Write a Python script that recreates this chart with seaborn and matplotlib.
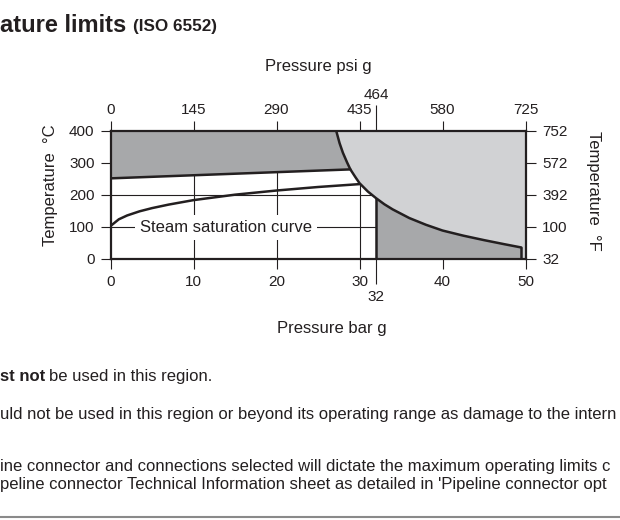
import numpy as np
import matplotlib
matplotlib.use("Agg")
import matplotlib.pyplot as plt
from matplotlib.lines import Line2D
import seaborn as sns

# data
bar_ticks = [0, 10, 20, 30, 40, 50]
psi_ticks = [0, 145, 290, 435, 580, 725]
psi_special = 464          # = 32 bar g
bar_special = 32
temp_c_ticks = [0, 100, 200, 300, 400]
temp_f_labels = ['32', '100', '392', '572', '752']

# body / pressure limit curve (bar g, degC)
limit_p = [27.2, 27.6, 28.0, 28.5, 28.9, 29.5, 30.0, 31.0, 32.0, 33.0, 34.0,
           36.0, 38.0, 40.0, 42.5, 45.0, 47.5, 49.5]
limit_t = [400, 362, 332, 302, 280, 256, 237, 211, 190, 171, 155,
           128, 107, 89, 73, 59, 46, 36]

# upper edge of the "must not be used" region
max_p = [0, 28.9]
max_t = [252, 280]

# steam saturation curve
sat_p = [0, 1, 2, 3.5, 5, 7, 10, 15, 20, 25, 30]
sat_t = [103, 124, 136, 149, 159, 170, 184, 201, 214, 225, 234]

sns.set_style('ticks')
plt.rcParams['font.family'] = ['Liberation Sans', 'DejaVu Sans']

ink = '#231f20'
dark = '#a7a8aa'
light = '#d1d2d4'
fs = 11      # tick labels
fl = 12      # axis titles, notes

fig = plt.figure(figsize=(6.2, 5.2), dpi=100)
ax = fig.add_axes([110.5 / 620, 1 - 259 / 520, 415 / 620, 128 / 520])
ax.set_xlim(0, 50)
ax.set_ylim(0, 400)

# thin reference lines (drawn below the shaded areas)
for v in bar_ticks[1:-1] + [bar_special]:
    ax.axvline(v, color=ink, lw=0.8, zorder=0.5)
for h in temp_c_ticks[1:-1]:
    ax.axhline(h, color=ink, lw=0.8, zorder=0.5)

lp = np.array(limit_p)
lt = np.array(limit_t)

# shaded regions
top_part = lt >= max_t[1]
ax.fill(np.r_[0, lp[top_part], max_p[0]], np.r_[400, lt[top_part], max_t[0]],
        color=dark, lw=0, zorder=1)
ax.fill(np.r_[lp, lp[-1], 50, 50], np.r_[lt, 0, 0, 400],
        color=light, lw=0, zorder=1)
right_part = lp >= bar_special
ax.fill(np.r_[bar_special, lp[right_part], lp[-1]], np.r_[0, lt[right_part], 0],
        color=dark, lw=0, zorder=1)

# curves
sns.lineplot(x=limit_p, y=limit_t, ax=ax, color=ink, lw=1.8, sort=False, zorder=3)
sns.lineplot(x=max_p, y=max_t, ax=ax, color=ink, lw=1.8, sort=False, zorder=3)
sns.lineplot(x=sat_p, y=sat_t, ax=ax, color=ink, lw=1.8, sort=False, zorder=3)
ax.vlines(bar_special, 0, limit_t[limit_p.index(bar_special)], color=ink, lw=1.8, zorder=3)
ax.vlines(limit_p[-1], 0, limit_t[-1], color=ink, lw=1.8, zorder=3)

ax.text(3.5, 100, 'Steam saturation curve', fontsize=fl, color=ink,
        ha='left', va='center', zorder=2,
        bbox=dict(boxstyle='square,pad=0.3', fc='white', ec='none'))

# main axes ticks (bottom / left)
for s in ax.spines.values():
    s.set_linewidth(1.6)
    s.set_color(ink)
    s.set_zorder(4)
ax.set_xticks(bar_ticks)
ax.set_xticks([bar_special], labels=[str(bar_special)], minor=True)
ax.set_yticks(temp_c_ticks)
ax.tick_params(which='major', direction='out', length=7, width=0.8, pad=4.5,
               labelsize=fs, colors=ink)
ax.tick_params(axis='x', which='minor', direction='out', length=18, width=0.8,
               pad=4.5, labelsize=fs, colors=ink)

# top psi axis
top = ax.secondary_xaxis('top', functions=(lambda b: b * 14.5, lambda p: p / 14.5))
top.set_xticks(psi_ticks)
top.set_xticks([psi_special], labels=[str(psi_special)], minor=True)
top.tick_params(which='major', direction='out', length=7, width=0.8, pad=3,
                labelsize=fs, colors=ink)
top.tick_params(which='minor', direction='out', length=19, width=0.8, pad=2,
                labelsize=fs, colors=ink)
for s in top.spines.values():
    s.set_visible(False)

# right degF axis
right = ax.secondary_yaxis('right')
right.set_yticks(temp_c_ticks, labels=temp_f_labels)
right.tick_params(direction='out', length=7, width=0.8, pad=5,
                  labelsize=fs, colors=ink)
for s in right.spines.values():
    s.set_visible(False)

# axis titles
fig.text(318 / 620, 1 - 66 / 520, 'Pressure psi g', fontsize=fl, color=ink,
         ha='center', va='center')
fig.text(332 / 620, 1 - 328 / 520, 'Pressure bar g', fontsize=fl, color=ink,
         ha='center', va='center')
fig.text(51 / 620, 1 - 185 / 520, 'Temperature  °C', fontsize=fl, color=ink,
         ha='center', va='center', rotation=90)
fig.text(593 / 620, 1 - 191 / 520, 'Temperature  °F', fontsize=fl, color=ink,
         ha='center', va='center', rotation=270)

# page title
fig.text(0, 1 - 31.5 / 520, 'ature limits', fontsize=17, weight='bold',
         color=ink, ha='left', va='baseline')
fig.text(133 / 620, 1 - 31.5 / 520, '(ISO 6552)', fontsize=12.3, weight='bold',
         color=ink, ha='left', va='baseline')

# notes below the chart
fig.text(0.5 / 620, 1 - 381 / 520, 'st not', fontsize=fl, weight='bold', color=ink,
         ha='left', va='baseline')
fig.text(49 / 620, 1 - 381 / 520, 'be used in this region.', fontsize=fl,
         color=ink, va='baseline')
fig.text(0, 1 - 419 / 520,
         'uld not be used in this region or beyond its operating range as damage to the intern',
         fontsize=fl, color=ink, va='baseline')
fig.text(0, 1 - 471 / 520,
         'ine connector and connections selected will dictate the maximum operating limits c',
         fontsize=fl, color=ink, va='baseline')
fig.text(0, 1 - 489 / 520,
         "peline connector Technical Information sheet as detailed in 'Pipeline connector opt",
         fontsize=fl, color=ink, va='baseline')
fig.add_artist(Line2D([0, 1], [1 - 516.5 / 520] * 2, color='#8a8a8a', lw=1.5))

fig.savefig('out.png', dpi=100)
